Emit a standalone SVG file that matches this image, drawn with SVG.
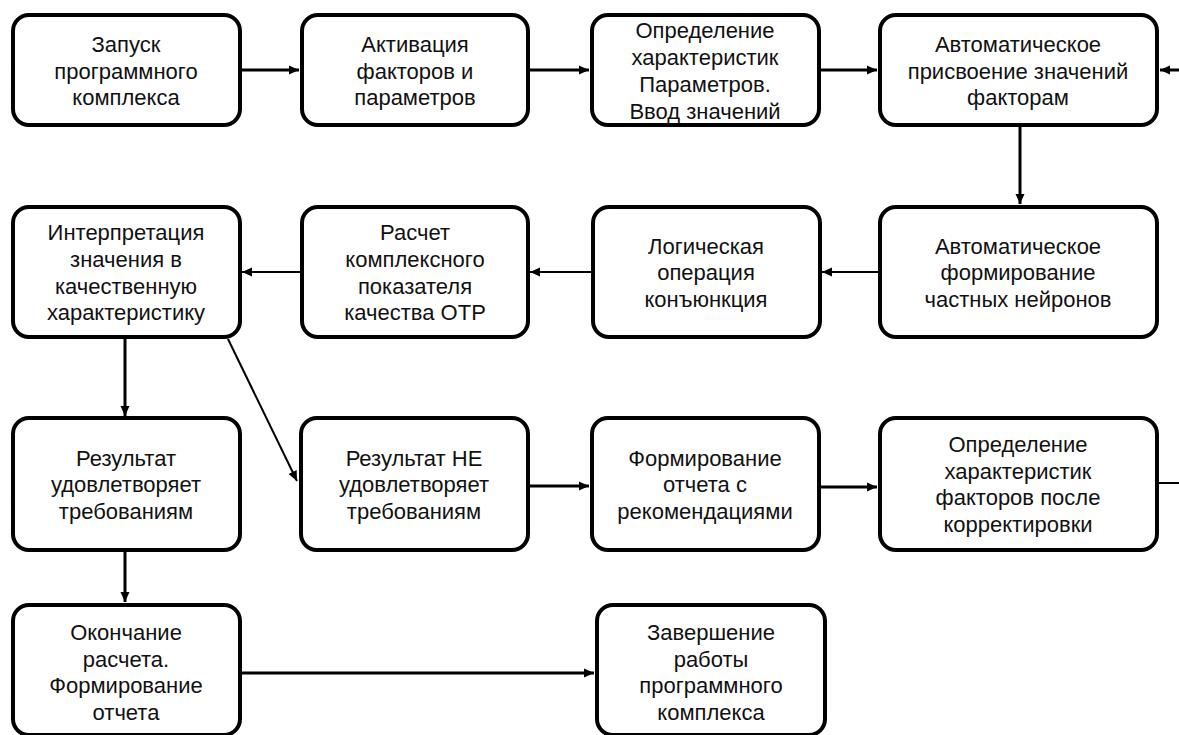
<svg xmlns="http://www.w3.org/2000/svg" width="1179" height="735" viewBox="0 0 1179 735">
<style>
.box{fill:#fff;stroke:#000;stroke-width:4}
.t{font-family:"Liberation Sans",Arial,sans-serif;font-size:22px;fill:#111;text-anchor:middle}
.c{fill:none;stroke:#000;stroke-width:3}
.c2{fill:none;stroke:#000;stroke-width:2}
</style>
<defs>
<marker id="ah" markerUnits="userSpaceOnUse" markerWidth="12" markerHeight="12" viewBox="0 0 12 12" refX="11" refY="6" orient="auto">
<path d="M1,1.5 L11,6 L1,10.5 Z" fill="#000"/>
</marker>
</defs>
<rect width="1179" height="735" fill="#fff"/>
<g id="connectors">
<path class="c" d="M241,70 H299" marker-end="url(#ah)"/>
<path class="c" d="M530,70 H589" marker-end="url(#ah)"/>
<path class="c" d="M821,70 H877" marker-end="url(#ah)"/>
<path class="c" d="M1179,70 H1160" marker-end="url(#ah)"/>
<path class="c" d="M1020,127 V204" marker-end="url(#ah)"/>
<path class="c2" d="M878,272 H822" marker-end="url(#ah)"/>
<path class="c2" d="M591,272 H530" marker-end="url(#ah)"/>
<path class="c2" d="M300,272 H242" marker-end="url(#ah)"/>
<path class="c" d="M125,339 V416" marker-end="url(#ah)"/>
<path class="c2" d="M228,339 L297,481" marker-end="url(#ah)"/>
<path class="c" d="M530,486 H589" marker-end="url(#ah)"/>
<path class="c" d="M821,487 H877" marker-end="url(#ah)"/>
<path class="c2" d="M1159,483 H1179"/>
<path class="c" d="M125,552 V602" marker-end="url(#ah)"/>
<path class="c" d="M242,673 H594" marker-end="url(#ah)"/>
</g>
<g id="n1"><rect class="box" x="13" y="15" width="227" height="110" rx="16"/>
<text class="t"><tspan x="126" y="52">Запуск</tspan><tspan x="126" y="78.5">программного</tspan><tspan x="126" y="105">комплекса</tspan></text></g>
<g id="n2"><rect class="box" x="302" y="15" width="226" height="110" rx="16"/>
<text class="t"><tspan x="415" y="52">Активация</tspan><tspan x="415" y="78.5">факторов и</tspan><tspan x="415" y="105">параметров</tspan></text></g>
<g id="n3"><rect class="box" x="592" y="15" width="227" height="110" rx="16"/>
<text class="t"><tspan x="705" y="38">Определение</tspan><tspan x="705" y="65">характеристик</tspan><tspan x="705" y="92">Параметров.</tspan><tspan x="705" y="119">Ввод значений</tspan></text></g>
<g id="n4"><rect class="box" x="880" y="15" width="277" height="110" rx="16"/>
<text class="t"><tspan x="1018" y="52">Автоматическое</tspan><tspan x="1018" y="78.5">присвоение значений</tspan><tspan x="1018" y="105">факторам</tspan></text></g>
<g id="n5"><rect class="box" x="880" y="207" width="277" height="130" rx="16"/>
<text class="t"><tspan x="1018" y="253.5">Автоматическое</tspan><tspan x="1018" y="280">формирование</tspan><tspan x="1018" y="306.5">частных нейронов</tspan></text></g>
<g id="n6"><rect class="box" x="593" y="207" width="227" height="130" rx="16"/>
<text class="t"><tspan x="706" y="253.5">Логическая</tspan><tspan x="706" y="280">операция</tspan><tspan x="706" y="306.5">конъюнкция</tspan></text></g>
<g id="n7"><rect class="box" x="302" y="207" width="226" height="130" rx="16"/>
<text class="t"><tspan x="415" y="240">Расчет</tspan><tspan x="415" y="267">комплексного</tspan><tspan x="415" y="293.5">показателя</tspan><tspan x="415" y="320">качества ОТР</tspan></text></g>
<g id="n8"><rect class="box" x="13" y="207" width="227" height="130" rx="16"/>
<text class="t"><tspan x="126" y="240">Интерпретация</tspan><tspan x="126" y="267">значения в</tspan><tspan x="126" y="293.5">качественную</tspan><tspan x="126" y="320">характеристику</tspan></text></g>
<g id="n9"><rect class="box" x="13" y="418" width="227" height="132" rx="16"/>
<text class="t"><tspan x="126" y="465.5">Результат</tspan><tspan x="126" y="492">удовлетворяет</tspan><tspan x="126" y="518.5">требованиям</tspan></text></g>
<g id="n10"><rect class="box" x="301" y="418" width="227" height="132" rx="16"/>
<text class="t"><tspan x="414" y="465.5">Результат НЕ</tspan><tspan x="414" y="492">удовлетворяет</tspan><tspan x="414" y="518.5">требованиям</tspan></text></g>
<g id="n11"><rect class="box" x="592" y="418" width="227" height="132" rx="16"/>
<text class="t"><tspan x="705" y="465.5">Формирование</tspan><tspan x="705" y="492">отчета с</tspan><tspan x="705" y="518.5">рекомендациями</tspan></text></g>
<g id="n12"><rect class="box" x="880" y="418" width="277" height="132" rx="16"/>
<text class="t"><tspan x="1018" y="452">Определение</tspan><tspan x="1018" y="478.5">характеристик</tspan><tspan x="1018" y="505">факторов после</tspan><tspan x="1018" y="531.5">корректировки</tspan></text></g>
<g id="n13"><rect class="box" x="13" y="605" width="227" height="130" rx="16"/>
<text class="t"><tspan x="126" y="640">Окончание</tspan><tspan x="126" y="666.5">расчета.</tspan><tspan x="126" y="693">Формирование</tspan><tspan x="126" y="719.5">отчета</tspan></text></g>
<g id="n14"><rect class="box" x="597" y="605" width="228" height="130" rx="16"/>
<text class="t"><tspan x="711" y="640">Завершение</tspan><tspan x="711" y="666.5">работы</tspan><tspan x="711" y="693">программного</tspan><tspan x="711" y="719.5">комплекса</tspan></text></g>
</svg>
